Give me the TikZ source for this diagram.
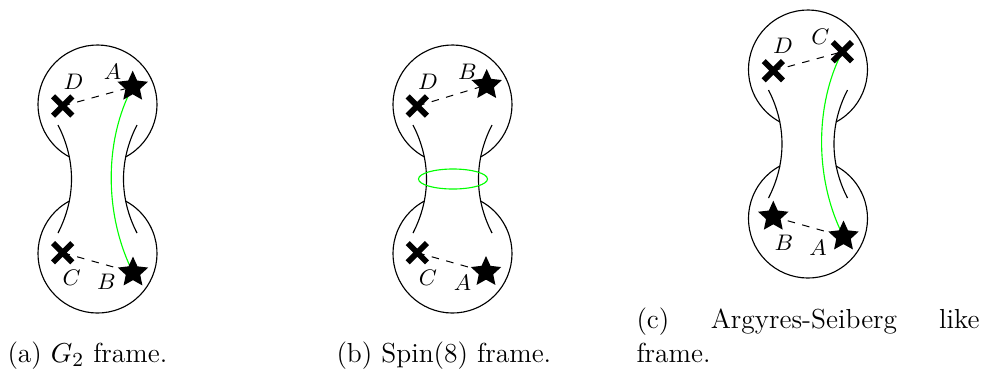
\documentclass[tikz,border=0pt]{standalone}
\usetikzlibrary{shapes.geometric,shapes.misc,backgrounds}
\tikzset{
  x=0.4pt, y=-0.4pt,
  outline/.style={line width=0.45pt},
  starmark/.style={star, star points=5, star point ratio=2.1, fill=black, draw=none, inner sep=0pt, minimum size=12.8pt},
  crossmark/.style={cross out, draw=black, line width=2.3pt, inner sep=0pt, minimum size=5.4pt},
  lab/.style={font=\small, inner sep=0pt},
  dashline/.style={dashed, line width=0.4pt},
  greenline/.style={draw=green, line width=0.45pt},
  captext/.style={anchor=base west, inner sep=0pt, font=\fontsize{11}{13.6}\selectfont},
}
\newcommand{\bodyoutline}{%
  \draw[outline] (97.5,104.5) ++(62:59.5) arc[start angle=62, end angle=-242, radius=59.5];
  \draw[outline] (97.5,253.5) ++(-118:59.5) arc[start angle=-118, end angle=-422, radius=59.5];
  \draw[outline] (58,125) .. controls (76,160) and (76,198) .. (58,233);
  \draw[outline] (137,125) .. controls (119,160) and (119,198) .. (137,233);
}
\begin{document}
\begin{tikzpicture}
\useasboundingbox (0,0) rectangle (982,369);

% ---------- (a) ----------
\bodyoutline
\node[crossmark] (aD) at (62.7,106) {};
\node[starmark]  (aA) at (132.7,86.7) {};
\node[crossmark] (aC) at (62.7,252.7) {};
\node[starmark]  (aB) at (133,272.5) {};
\node[lab] (aDl) at (73.5,81.5) {$D$};
\node[lab] (aAl) at (112.5,71.5) {$A$};
\node[lab] (aCl) at (71.7,278) {$C$};
\node[lab] (aBl) at (106.5,281.7) {$B$};
\begin{scope}[on background layer]
  \draw[dashline] (aD.center) -- (aA.center);
  \draw[dashline] (aC.center) -- (aB.center);
  \draw[greenline] (aA.center) .. controls (104,140) and (104,215) .. (aB.center);
\end{scope}

% ---------- (b) ----------
\begin{scope}[xshift=355*0.4pt]
  \bodyoutline
\end{scope}
\node[crossmark] (bD) at (417.3,106) {};
\node[starmark]  (bB) at (486.7,85) {};
\node[crossmark] (bC) at (417.3,252.7) {};
\node[starmark]  (bA) at (486,272) {};
\node[lab] (bDl) at (428,81.5) {$D$};
\node[lab] (bBl) at (467.5,72) {$B$};
\node[lab] (bCl) at (428,277.5) {$C$};
\node[lab] (bAl) at (462.5,282.5) {$A$};
\node[ellipse, draw=green, line width=0.45pt, minimum width=69*0.4pt, minimum height=20*0.4pt, inner sep=0pt] (bE) at (453,179) {};
\begin{scope}[on background layer]
  \draw[dashline] (bD.center) -- (bB.center);
  \draw[dashline] (bC.center) -- (bA.center);
\end{scope}

% ---------- (c) ----------
\begin{scope}[xshift=710.5*0.4pt, yshift=35*0.4pt]
  \bodyoutline
\end{scope}
\node[crossmark] (cD) at (773.3,70.7) {};
\node[crossmark] (cC) at (842.3,51.7) {};
\node[starmark]  (cB) at (773.3,216.7) {};
\node[starmark]  (cA) at (843.5,236.5) {};
\node[lab] (cCl) at (820.5,36.5) {$C$};
\node[lab] (cDl) at (783,46) {$D$};
\node[lab] (cBl) at (784,242.5) {$B$};
\node[lab] (cAl) at (818,247.5) {$A$};
\begin{scope}[on background layer]
  \draw[dashline] (cD.center) -- (cC.center);
  \draw[dashline] (cB.center) -- (cA.center);
  \draw[greenline] (cC.center) .. controls (814.5,105) and (814.5,180) .. (cA.center);
\end{scope}

% ---------- captions ----------
\node[captext] (capa) at (7,362) {(a) $G_2$ frame.};
\node[captext] (capb) at (336,362) {(b) Spin(8) frame.};
\node[captext] (capc1) at (636,328) {(c)};
\node[captext, anchor=base] (capc2) at (804,328) {Argyres-Seiberg};
\node[captext, anchor=base east] (capc3) at (980,328) {like};
\node[captext] (capc4) at (636,362) {frame.};
\end{tikzpicture}
\end{document}
